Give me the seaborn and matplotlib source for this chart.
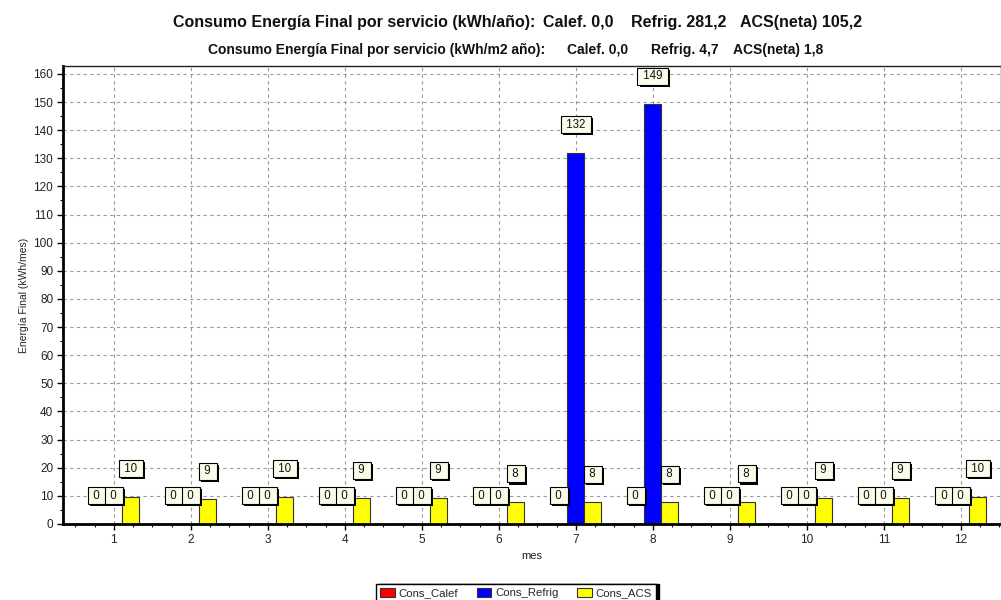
import matplotlib
matplotlib.use("Agg")
import matplotlib.pyplot as plt
import matplotlib.patheffects as pe
from matplotlib.patches import Patch
from matplotlib.ticker import MultipleLocator
import pandas as pd
import seaborn as sns

# Monthly final energy consumption by service (kWh/mes)
meses = [1, 2, 3, 4, 5, 6, 7, 8, 9, 10, 11, 12]
cons_calef = [0.0, 0.0, 0.0, 0.0, 0.0, 0.0, 0.0, 0.0, 0.0, 0.0, 0.0, 0.0]
cons_refrig = [0.0, 0.0, 0.0, 0.0, 0.0, 0.0, 132.0, 149.2, 0.0, 0.0, 0.0, 0.0]
cons_acs = [9.7, 8.8, 9.7, 9.1, 9.1, 7.8, 7.7, 7.7, 7.8, 9.1, 9.1, 9.6]

series = ["Cons_Calef", "Cons_Refrig", "Cons_ACS"]
colores = ["#FF0000", "#0000FF", "#FFFF00"]

# Header pieces: (text, left edge in figure pixels)
titulo1 = [("Consumo Energía Final por servicio (kWh/año):", 173),
           ("Calef. 0,0", 543), ("Refrig. 281,2", 631), ("ACS(neta) 105,2", 740)]
titulo2 = [("Consumo Energía Final por servicio (kWh/m2 año):", 208),
           ("Calef. 0,0", 567), ("Refrig. 4,7", 651), ("ACS(neta) 1,8", 733)]

df = pd.DataFrame({
    "mes": meses * 3,
    "serie": [series[0]] * 12 + [series[1]] * 12 + [series[2]] * 12,
    "valor": cons_calef + cons_refrig + cons_acs,
})

sns.set_theme(style="white")
plt.rcParams["font.family"] = ["Liberation Sans", "DejaVu Sans"]

W, H = 1001, 600
fig = plt.figure(figsize=(W / 100, H / 100), dpi=100)
ax = fig.add_axes([63 / W, 1 - 524 / H, (W - 63) / W, (524 - 66) / H])

sns.barplot(data=df, x="mes", y="valor", hue="serie", hue_order=series,
            palette=colores, width=0.66, dodge=True, legend=False,
            edgecolor="#333333", linewidth=0.8, saturation=1, ax=ax)

ax.set_xlim(-0.66, 11.52)
ax.set_ylim(0, 162.8)
ax.yaxis.set_major_locator(MultipleLocator(10))
ax.yaxis.set_minor_locator(MultipleLocator(5))
ax.xaxis.set_minor_locator(MultipleLocator(0.25))

ax.grid(True, which="major", color="#9a9a9a", linestyle=(0, (3, 3)), linewidth=0.8)
ax.set_axisbelow(True)

for side in ["left", "bottom"]:
    ax.spines[side].set_linewidth(2.0)
    ax.spines[side].set_color("black")
for side in ["top", "right"]:
    ax.spines[side].set_linewidth(1.0)
    ax.spines[side].set_color("#222222")

ax.tick_params(axis="both", which="major", direction="out", length=4, width=1,
               color="black", labelsize=8.5, labelcolor="#222222", pad=3,
               bottom=True, left=True)
ax.tick_params(axis="both", which="minor", direction="out", length=2, width=0.8,
               color="black", bottom=True, left=True)

ax.set_xlabel("mes", fontsize=8, color="#222222", labelpad=4)
ax.set_ylabel("Energía Final (kWh/mes)", fontsize=7.5, color="#222222", labelpad=3)

# Value marks above each bar: cream box with a hard black drop shadow
sombra = [pe.SimplePatchShadow(offset=(1.5, -1.5), shadow_rgbFace="black", alpha=1.0),
          pe.Normal()]
for cont in ax.containers:
    for bar in cont:
        h = bar.get_height()
        xc = bar.get_x() + bar.get_width() / 2
        t = ax.annotate(f" {h:.0f} ", (xc, h + 10), ha="center", va="center",
                        fontsize=8.3, color="#111111",
                        bbox=dict(boxstyle="square,pad=0.22", fc="#FBFBEA",
                                  ec="black", lw=0.8),
                        zorder=6, annotation_clip=False)
        t.get_bbox_patch().set_path_effects(sombra)

for texto, x in titulo1:
    fig.text(x / W, 1 - 22 / H, texto, ha="left", va="center", fontsize=11.5,
             fontweight="bold", color="#111111")
for texto, x in titulo2:
    fig.text(x / W, 1 - 50 / H, texto, ha="left", va="center", fontsize=10,
             fontweight="bold", color="#111111")

handles = [Patch(facecolor=c, edgecolor="#333333", linewidth=0.8) for c in colores]
fig.legend(handles, series, ncol=3, loc="center", bbox_to_anchor=(516 / W, 1 - 593 / H),
           bbox_transform=fig.transFigure, fontsize=8.2, frameon=True, fancybox=False,
           edgecolor="black", framealpha=1, handlelength=1.3, handleheight=0.85,
           handletextpad=0.35, columnspacing=1.6, borderpad=0.35,
           shadow={"color": "black", "alpha": 1, "ox": 2, "oy": 0})

fig.savefig("out.png", dpi=100, facecolor="white")
